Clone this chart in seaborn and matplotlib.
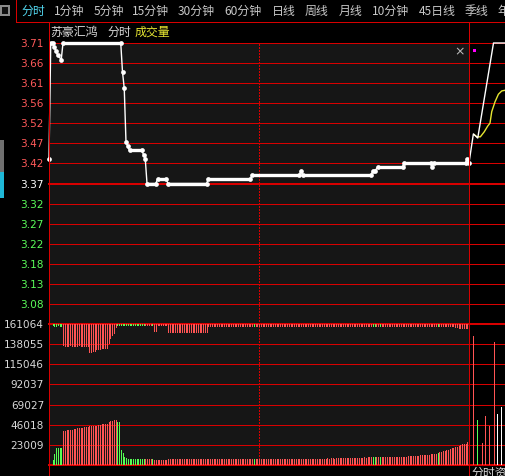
import matplotlib
matplotlib.use("Agg")
import matplotlib.pyplot as plt
from matplotlib.lines import Line2D
from matplotlib.patches import Rectangle
import numpy as np
import pandas as pd
import seaborn as sns

sns.set_theme(style="dark")
plt.rcParams['font.family'] = ['Noto Sans CJK SC', 'DejaVu Sans']
plt.rcParams['axes.unicode_minus'] = False

# ---------------- data ----------------
tab_labels = ["分时", "1分钟", "5分钟", "15分钟", "30分钟", "60分钟", "日线", "周线",
              "月线", "10分钟", "45日线", "季线", "年线"]
title_name = "苏豪汇鸿"
title_mode = "分时"
title_ind = "成交量"

prev_close = 3.37
price_step = 0.34 / 7
price_labels = ["3.71", "3.66", "3.61", "3.56", "3.52", "3.47", "3.42", "3.37",
                "3.32", "3.27", "3.22", "3.18", "3.13", "3.08"]
vol_step = 23009
vol_labels = ["161064", "138055", "115046", "92037", "69027", "46018", "23009"]

# minute price breakpoints (trading session, minute 0..240)
price_t = [0, 1, 2, 3, 4, 5, 7, 8, 41, 42, 43, 44, 45, 46, 53, 54, 55, 56, 61, 62,
           67, 68, 90, 91, 115, 116, 143, 144, 145, 184, 185, 186, 188, 202, 203,
           218, 219, 220, 238, 239, 240]
price_v = [3.43, 3.71, 3.71, 3.70, 3.69, 3.68, 3.67, 3.71, 3.71, 3.64, 3.60, 3.47,
           3.46, 3.45, 3.45, 3.44, 3.43, 3.37, 3.37, 3.38, 3.38, 3.37, 3.37, 3.38,
           3.38, 3.39, 3.39, 3.40, 3.39, 3.39, 3.40, 3.40, 3.41, 3.41, 3.42, 3.42,
           3.41, 3.42, 3.42, 3.43, 3.42]

# next session (right black area)
next_t = [240, 242.5, 245, 254, 261]
next_v = [3.42, 3.49, 3.48, 3.71, 3.71]
next_avg_t = [242.7, 244.6, 246.5, 248.7, 250.7, 252, 253, 254.9, 256.8, 258.7, 261]
next_avg_v = [3.489, 3.483, 3.483, 3.495, 3.509, 3.516, 3.544, 3.568, 3.586, 3.594, 3.596]

# volume per minute (thousands), minutes 1..240 (10 per row)
vol_k = [
    0, 5.7, 12.6, 19.9, 19.9, 19.9, 19.9, 39.0, 39.0, 39.5,          # 1-10
    39.5, 40.0, 40.5, 41.0, 41.0, 42.0, 42.5, 42.8, 42.8, 43.0,       # 11-20
    43.0, 43.5, 44.5, 44.5, 44.8, 45.0, 45.0, 45.5, 46.0, 46.8,       # 21-30
    46.8, 46.8, 47.0, 48.6, 49.8, 50.6, 51.0, 51.0, 48.6, 48.6,       # 31-40
    17.0, 13.4, 8.9, 7.6, 6.9, 6.9, 6.9, 6.9, 6.9, 6.9,              # 41-50
    6.9, 6.9, 6.9, 6.9, 6.9, 6.9, 6.9, 6.9, 6.9, 5.7,                # 51-60
    5.7, 5.7, 5.7, 5.7, 5.7, 5.7, 5.7, 6.9, 6.9, 7.2,                # 61-70
    6.9, 6.9, 6.5, 6.9, 6.9, 7.2, 6.9, 6.9, 6.9, 6.5,                # 71-80
    6.9, 7.2, 6.9, 6.9, 6.9, 6.9, 6.5, 6.9, 6.9, 7.2,                # 81-90
    6.9, 6.9, 6.9, 6.5, 6.9, 6.9, 7.2, 6.9, 6.9, 6.9,                # 91-100
    6.5, 6.9, 6.9, 7.2, 6.9, 6.9, 6.9, 6.5, 6.9, 6.9,                # 101-110
    6.9, 7.2, 6.9, 6.9, 6.9, 6.9, 6.9, 6.7, 6.7, 7.0,                # 111-120
    6.7, 6.4, 6.7, 6.7, 7.0, 6.7, 6.7, 6.4, 6.7, 6.7,                # 121-130
    7.0, 6.7, 6.7, 6.7, 6.4, 6.7, 7.0, 6.7, 6.7, 6.7,                # 131-140
    6.4, 6.7, 6.7, 7.0, 6.7, 6.7, 6.7, 6.4, 7.0, 6.7,                # 141-150
    7.0, 6.7, 7.0, 7.3, 7.0, 7.0, 7.3, 7.0, 7.6, 7.3,                # 151-160
    7.6, 7.6, 7.3, 7.6, 7.6, 8.0, 7.6, 7.6, 8.0, 7.6,                # 161-170
    8.0, 8.0, 8.3, 8.0, 8.0, 8.3, 8.0, 8.3, 8.3, 8.6,                # 171-180
    8.3, 8.6, 8.6, 8.9, 8.9, 8.9, 8.9, 8.9, 8.9, 8.9,                # 181-190
    8.9, 8.9, 8.9, 8.9, 8.9, 8.9, 8.9, 8.9, 8.9, 8.9,                # 191-200
    8.9, 8.9, 8.9, 8.9, 10.3, 10.3, 10.3, 10.3, 10.3, 10.3,          # 201-210
    10.3, 11.5, 11.5, 11.5, 11.5, 11.5, 11.5, 12.6, 12.6, 12.6,      # 211-220
    12.6, 13.4, 14.5, 15.3, 16.0, 16.5, 17.0, 17.5, 18.4, 19.0,      # 221-230
    19.9, 20.5, 21.0, 22.0, 23.0, 24.0, 24.0, 24.5, 26.0, 27.6,      # 231-240
]
# hanging indicator from the top line (thousands), minutes 1..240 (10 per row)
hang_k = [
    0, 1.5, 2, 2, 1.5, 2, 2, 24, 25, 25,                 # 1-10
    25, 24.5, 25, 25, 25, 25, 24.5, 25, 25, 25,          # 11-20
    25, 25, 31.6, 31.6, 31, 31, 28, 28, 28, 27.5,        # 21-30
    27, 27, 27, 22, 16, 12, 10.5, 3, 1.5, 1.5,           # 31-40
    1.5, 1.5, 1.5, 1.5, 1.5, 1.5, 1.5, 1.5, 1.5, 1.5,    # 41-50
    1.5, 1.5, 1.5, 1.5, 1.5, 1.5, 1.5, 1.5, 1.5, 8.5,    # 51-60
    8.5, 1.5, 1.5, 1.5, 1.5, 1.5, 1.5, 9, 9, 9,          # 61-70
    9, 9, 9, 9, 9, 9, 9, 9, 9, 9,                        # 71-80
    9, 9, 9, 9, 9, 9, 9, 9, 9, 9,                        # 81-90
    2.5, 2.5, 2.5, 2.5, 2.5, 2.5, 2.5, 2.5, 2.5, 2.5,    # 91-100
    2.5, 2.5, 2.5, 2.5, 2.5, 2.5, 2.5, 2.5, 2.5, 2.5,    # 101-110
    2.5, 2.5, 2.5, 2.5, 2.5, 2.5, 2.5, 2.5, 2.5, 2.5,    # 111-120
    2.5, 2.5, 2.5, 2.5, 2.5, 2.5, 2.5, 2.5, 2.5, 2.5,    # 121-130
    2.5, 2.5, 2.5, 2.5, 2.5, 2.5, 2.5, 2.5, 2.5, 2.5,    # 131-140
    2.5, 2.5, 2.5, 2.5, 2.5, 2.5, 2.5, 2.5, 2.5, 2.5,    # 141-150
    2.5, 2.5, 2.5, 2.5, 2.5, 2.5, 2.5, 2.5, 2.5, 2.5,    # 151-160
    2.5, 2.5, 2.5, 2.5, 2.5, 2.5, 2.5, 2.5, 2.5, 2.5,    # 161-170
    2.5, 2.5, 2.5, 2.5, 2.5, 2.5, 2.5, 2.5, 2.5, 2.5,    # 171-180
    2.5, 2.5, 2.5, 2.5, 2.5, 2.5, 2.5, 2.5, 2.5, 2.5,    # 181-190
    2.5, 2.5, 2.5, 2.5, 2.5, 2.5, 2.5, 2.5, 2.5, 2.5,    # 191-200
    2.5, 2.5, 2.5, 2.5, 2.5, 2.5, 2.5, 2.5, 2.5, 2.5,    # 201-210
    2.5, 2.5, 2.5, 2.5, 2.5, 2.5, 2.5, 2.5, 2.5, 2.5,    # 211-220
    2.5, 2.5, 2.5, 2.5, 2.5, 2.5, 2.5, 2.5, 2.5, 2.5,    # 221-230
    2.5, 3.5, 3.5, 4, 4, 4.5, 4.5, 5, 5, 6,              # 231-240
]
green_minutes = [2, 3, 4, 5, 6, 7, 39, 40, 41, 42, 43, 44, 45, 46, 47, 48, 49, 50,
                 51, 52, 53, 54, 59, 117, 185, 186, 189, 222]

next_vol_t = [242.5, 244.8, 247.2, 249.3, 251.6, 254.0, 256.2, 258.5]
next_vol_k = [147, 51.5, 25, 56, 45, 140, 58.4, 66.8]
next_vol_c = ["r", "g", "r", "r", "r", "r", "w", "w"]

n_min = min(len(vol_k), len(hang_k))

# ---------------- styling ----------------
W, H = 505, 476
RED = "#d80000"
BAR_R = "#ff5454"
BAR_G = "#54ff54"
LBL_R = "#ff5a5a"
LBL_G = "#5afc5a"
PANEL = "#161616"
PX = 0.72  # points per pixel
X_MAX = (505 - 49) / 1.75

fig = plt.figure(figsize=(W / 100, H / 100), dpi=100, facecolor="black")


def fline(x0, y0, x1, y1, color=RED, lw=1.0, ls="-", z=10):
    fig.add_artist(Line2D([x0 / W, x1 / W], [1 - y0 / H, 1 - y1 / H],
                          transform=fig.transFigure, color=color, lw=lw * PX,
                          ls=ls, zorder=z, antialiased=False))


def frect(x, y, w, h, color, z=10):
    fig.add_artist(Rectangle((x / W, 1 - (y + h) / H), w / W, h / H,
                             transform=fig.transFigure, facecolor=color,
                             edgecolor="none", zorder=z))


ax_p = fig.add_axes([49 / W, 1 - 324 / H, 456 / W, 281 / H])
ax_v = fig.add_axes([49 / W, 1 - 465 / H, 456 / W, 141 / H])
for ax in (ax_p, ax_v):
    ax.set_facecolor("black")
    ax.axvspan(0, 240, color=PANEL, zorder=0, lw=0)
    for sp in ax.spines.values():
        sp.set_visible(False)
    ax.set_xlim(0, X_MAX)
    ax.set_xticks([])
    ax.grid(False)
    ax.axvline(120, color=RED, lw=1 * PX, ls=(0, (1.5, 1.5)), zorder=1, antialiased=False)

# price panel
levels = [prev_close + (7 - k) * price_step for k in range(14)]
ax_p.set_ylim(prev_close - 7 * price_step, prev_close + 7 * price_step)
for i, lv in enumerate(levels):
    ax_p.axhline(lv, color=RED, lw=(2.0 if i == 7 else 1.0) * PX, zorder=1,
                 clip_on=False, antialiased=False)
ax_p.set_yticks(levels)
ax_p.set_yticklabels(price_labels)
ax_p.tick_params(axis="y", length=0, pad=3.6, labelsize=7.6)
for i, tl in enumerate(ax_p.get_yticklabels()):
    tl.set_fontfamily("DejaVu Sans")
    tl.set_color(LBL_R if i < 7 else ("#ffffff" if i == 7 else LBL_G))

df_price = pd.DataFrame({"t": price_t, "p": price_v})
sns.lineplot(data=df_price, x="t", y="p", ax=ax_p, color="white", lw=1.0,
             marker="o", markersize=3.4, markeredgewidth=0, estimator=None,
             sort=False, zorder=5)
for i in range(len(price_t) - 1):
    if price_v[i] == price_v[i + 1]:
        ax_p.plot([price_t[i], price_t[i + 1]], [price_v[i], price_v[i]],
                  color="white", lw=2.4, solid_capstyle="round", zorder=5)
sns.lineplot(x=next_avg_t, y=next_avg_v, ax=ax_p, color="#e6e632", lw=1.0,
             estimator=None, sort=False, zorder=4)
sns.lineplot(x=next_t, y=next_v, ax=ax_p, color="white", lw=1.0,
             estimator=None, sort=False, zorder=5)
for ln in ax_p.lines:
    ln.set_clip_on(False)
ax_p.set_xlabel("")
ax_p.set_ylabel("")
ax_p.set_xlim(0, X_MAX)

# volume panel
vmax = 7 * vol_step
ax_v.set_ylim(0, vmax)
for k in range(8):
    ax_v.axhline(k * vol_step, color=RED, lw=(2.0 if k == 7 else 1.5 if k == 0 else 1.0) * PX,
                 zorder=1, clip_on=False, antialiased=False)
ax_v.set_yticks([vol_step * (7 - i) for i in range(7)])
ax_v.set_yticklabels(vol_labels)
ax_v.tick_params(axis="y", length=0, pad=3.6, labelsize=7.6, labelcolor="#d8d8d8")
for tl in ax_v.get_yticklabels():
    tl.set_fontfamily("DejaVu Sans")

minutes = list(range(1, n_min + 1))
cols = [BAR_G if m in green_minutes else BAR_R for m in minutes]
vols = [v * 1000 for v in vol_k[:n_min]]
hangs = [h * 1000 for h in hang_k[:n_min]]
ax_v.vlines(minutes, 0, vols, colors=cols, lw=1.0 * PX, zorder=3, antialiased=False)
ax_v.vlines(minutes, [vmax - h for h in hangs], vmax, colors=cols, lw=1.0 * PX,
            zorder=3, antialiased=False)
cmap = {"r": BAR_R, "g": BAR_G, "w": "#ffffff"}
ax_v.vlines(next_vol_t, 0, [v * 1000 for v in next_vol_k],
            colors=[cmap[c] for c in next_vol_c], lw=1.0 * PX, zorder=3, antialiased=False)
ax_v.set_xlim(0, X_MAX)

# ---------------- frame / header ----------------
fline(16, 0, 16, 22)
fline(16, 22, 505, 22)
fline(49, 22, 49, 476)
fline(469.3, 22, 469.3, 476)

# icon top-left
frect(0, 5, 10, 11, "#8a8a8a")
frect(2, 7, 6, 7, "#101010")
# left scroll markers
frect(0, 140, 4, 32, "#707070")
frect(0, 172, 4, 26, "#1fb8d8")

tab_x = [22, 54, 94, 132, 178, 224, 272, 305, 339, 372, 419, 465, 497]
for lab, x in zip(tab_labels, tab_x):
    fig.text(x / W, 1 - 11 / H, lab, color=("#52d7f0" if lab == "分时" else "#c8c8c8"),
             fontsize=8.6, ha="left", va="center")

fig.text(50 / W, 1 - 32 / H, title_name, color="#d8d8d8", fontsize=8.6, ha="left", va="center")
fig.text(108 / W, 1 - 32 / H, title_mode, color="#d8d8d8", fontsize=8.6, ha="left", va="center")
fig.text(135 / W, 1 - 32 / H, title_ind, color="#e6e632", fontsize=8.6, ha="left", va="center")

fig.text(460 / W, 1 - 52 / H, "×", color="#bdbdbd", fontsize=9, ha="center", va="center",
         family="DejaVu Sans")
frect(472.5, 48.5, 3, 3, "#ff00ff")
fig.text(472 / W, 1 - 467 / H, "分时资", color="#d8d8d8", fontsize=8.6, ha="left", va="top")

fig.savefig("out.png", dpi=100, facecolor="black")
